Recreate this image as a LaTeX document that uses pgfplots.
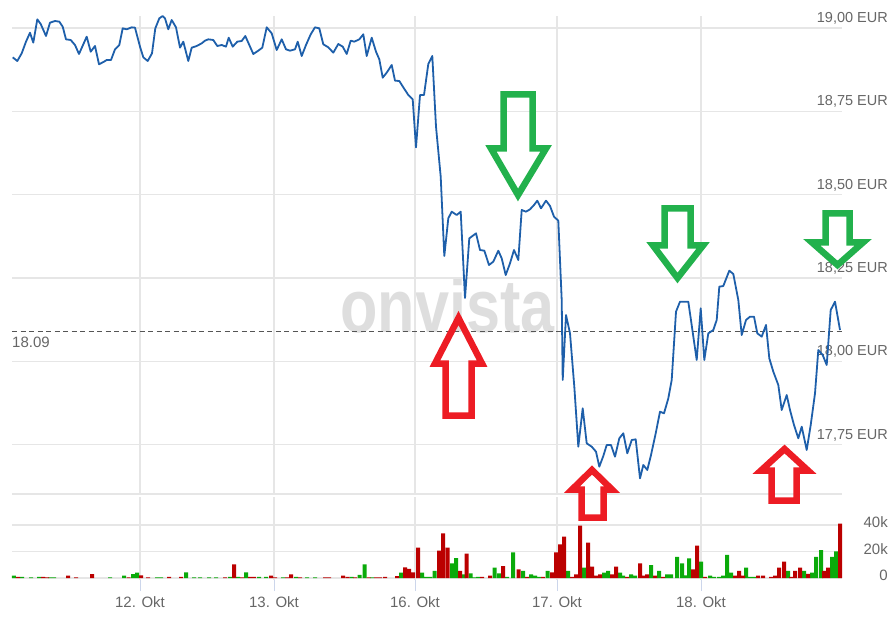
\documentclass[border=0pt]{standalone}
\usepackage{pgfplots}
\pgfplotsset{compat=1.18}
\usepackage{fontspec}
\setmainfont{Liberation Sans}
\definecolor{priceblue}{RGB}{30,95,170}
\definecolor{volgreen}{RGB}{10,170,10}
\definecolor{volred}{RGB}{187,0,0}
\definecolor{arrowgreen}{RGB}{34,177,76}
\definecolor{arrowred}{RGB}{237,28,36}
\definecolor{gridgray}{RGB}{230,230,230}
\definecolor{tickblue}{RGB}{204,214,235}
\definecolor{labelgray}{RGB}{102,102,102}
\definecolor{wmgray}{RGB}{222,222,222}
\begin{document}
\begin{tikzpicture}[x=1pt,y=1pt]
\path[use as bounding box] (0,0) rectangle (890,619);
\node[anchor=base, text=wmgray, font=\fontsize{60}{60}\selectfont\bfseries, xscale=1.02, yscale=1.25, inner sep=0pt] at (447.5,287) {onvista};

\begin{axis}[
  at={(12pt,125pt)}, anchor=south west, scale only axis,
  width=830pt, height=478pt,
  xmin=12, xmax=842, ymin=17.602, ymax=19.036,
  axis line style={draw=none},
  xtick={140,274,415,557,701}, xticklabels={},
  ytick={17.75,18,18.25,18.5,18.75,19},
  yticklabels={{17,75 EUR},{18,00 EUR},{18,25 EUR},{18,50 EUR},{18,75 EUR},{19,00 EUR}},
  yticklabel pos=right,
  extra y ticks={17.602}, extra y tick labels={},
  tick style={draw=none},
  grid=major, major grid style={draw=gridgray, line width=1.5pt},
  yticklabel style={anchor=east, xshift=46pt, yshift=9.5pt, inner sep=0pt, text=labelgray, font=\fontsize{14.5}{17}\selectfont},
  clip=false,
]
\addplot[draw={rgb,255:red,85;green,85;blue,85}, line width=1.2pt, dash pattern=on 5pt off 3.5pt] coordinates {(12,18.09) (842,18.09)};
\addplot[priceblue, line width=1.8pt, line join=round] coordinates {
(12.7,18.912) (17.3,18.901) (21.7,18.924) (26,18.959) (30,18.986) (33.3,18.956)
(37.3,19.026) (40.7,19.012) (46,18.976) (50,19.016) (55,19.021) (59.3,19.019)
(62.7,19.004) (66,18.966) (70.7,18.964) (75,18.949) (79,18.922) (86.7,18.974)
(90.7,18.929) (95,18.946) (99,18.891) (104,18.899) (106.7,18.904) (111,18.904)
(115,18.936) (119.3,18.949) (122.7,18.999) (126.7,18.996) (131.7,19.002) (135,19.001)
(140,18.944) (143.3,18.912) (147.7,18.901) (152,18.924) (155.3,18.999) (159.3,19.029)
(162.7,19.036) (165,19.029) (168.3,18.996) (171.7,19.024) (176,19.002) (180,18.941)
(183.3,18.959) (188.3,18.901) (191.7,18.941) (196.7,18.946) (201.7,18.954) (205,18.962)
(208.3,18.966) (213.3,18.964) (217.3,18.946) (221.7,18.949) (226,18.944) (228.7,18.971)
(232.7,18.944) (237.3,18.959) (241.7,18.961) (245.3,18.976) (249.3,18.949) (253.3,18.922)
(258.3,18.932) (262.3,18.941) (266.7,19.002) (271.7,18.984) (276.7,18.934) (281.7,18.966)
(286,18.936) (290,18.932) (295,18.936) (297.7,18.959) (301.7,18.916) (306,18.949)
(310.7,18.981) (315,19.002) (319.3,18.999) (323.3,18.951) (328.3,18.942) (333.3,18.926)
(338.3,18.952) (342.7,18.944) (346.7,18.922) (350.7,18.962) (354.3,18.959) (359.3,18.966)
(363.3,18.981) (366.7,18.916) (371.7,18.971) (376,18.929) (379.3,18.906) (382.7,18.851)
(386.7,18.866) (391.7,18.889) (395,18.842) (399.3,18.841) (403.3,18.822) (408.3,18.799)
(412.7,18.786) (416,18.642) (420,18.799) (424,18.799) (428.3,18.892) (432.3,18.916)
(436,18.704) (440.7,18.554) (444.3,18.316) (448.3,18.429) (451.7,18.449) (456.7,18.439)
(460.7,18.449) (465,18.190) (469.3,18.369) (476,18.384) (480,18.334) (484.3,18.332)
(489,18.289) (493.3,18.299) (498.3,18.332) (501.7,18.309) (505.7,18.259) (510,18.294)
(514,18.334) (518.3,18.304) (521.7,18.454) (526,18.449) (530,18.456) (534,18.469)
(537.3,18.482) (541,18.459) (546,18.482) (550,18.466) (554,18.434) (558.3,18.422)
(561.7,18.184) (562.7,17.944) (566,18.139) (570,18.084) (574.3,17.924) (578.3,17.744)
(582.7,17.859) (586.7,17.754) (591.7,17.744) (596,17.729) (599.3,17.684) (603.3,17.716)
(606.7,17.749) (611,17.749) (615,17.714) (619.3,17.769) (623.3,17.784) (627.3,17.724)
(631.7,17.764) (635.7,17.766) (640,17.649) (643.3,17.689) (647.3,17.674) (651,17.719)
(655.7,17.784) (660,17.849) (664,17.844) (668.3,17.889) (671.7,17.944) (676,18.149)
(680,18.179) (688.3,18.179) (696.7,18.004) (700.7,18.159) (704.3,18.004) (708.3,18.084)
(713.3,18.094) (716.7,18.124) (719.3,18.224) (723.3,18.226) (729.3,18.272) (733.3,18.262)
(738.3,18.184) (741.7,18.079) (746,18.124) (750,18.134) (754,18.134) (757.3,18.084)
(761.7,18.074) (766,18.109) (769.3,18.009) (773.3,17.969) (778.3,17.929) (781.7,17.854)
(786.7,17.899) (790,17.854) (794,17.809) (798.3,17.769) (801.7,17.804) (806.7,17.734)
(810.7,17.809) (815,17.904) (818.3,18.034) (822.7,18.019) (826.7,17.989) (830.7,18.154)
(835,18.179) (840,18.094)
};
\node[anchor=west, inner sep=0pt, yshift=-11pt, text=labelgray, font=\fontsize{15}{17}\selectfont] at (axis cs:12,18.09) {18.09};
\end{axis}

\begin{axis}[
  at={(12pt,39pt)}, anchor=south west, scale only axis,
  width=830pt, height=83pt,
  xmin=12, xmax=842, ymin=-1.51, ymax=61.1,
  axis line style={draw=none},
  xtick={140,274,415,557,701},
  xticklabels={12. Okt,13. Okt,16. Okt,17. Okt,18. Okt},
  xtick pos=lower,
  ytick={20,40}, yticklabels={20k,40k}, yticklabel pos=right,
  extra y ticks={0}, extra y tick labels={0},
  extra y tick style={grid style={draw=tickblue, line width=1.5pt}},
  tick align=outside, major tick length=11pt,
  xtick style={draw=tickblue, line width=1pt},
  ytick style={draw=none},
  grid=major, major grid style={draw=gridgray, line width=1.5pt},
  xticklabel style={anchor=base, yshift=-16pt, inner sep=0pt, text=labelgray, font=\fontsize{15}{17}\selectfont},
  yticklabel style={anchor=east, xshift=35pt, yshift=2.5pt, inner sep=0pt, text=labelgray, font=\fontsize{15}{17}\selectfont},
]
\addplot[ybar, bar width=4, bar shift=0pt, fill=volgreen, draw=none] coordinates {
(14,1.8) (22,0.8) (31,0.5) (39,0.8) (50,0.5) (54,0.5) (110,0.5) (124,1.8) (133,3) (137,4)
(157,0.5) (161,0.5) (186,4.3) (194,0.5) (200,0.5) (209,0.5) (216,0.5) (230,0.8) (238,0.8)
(246,4.3) (259,0.8) (266,0.8) (283,0.5) (296,0.8) (307,0.5) (315,0.5) (351.5,0.8) (359.5,2.3)
(364.5,10.3) (372,0.5) (401,4) (422,4) (426,0.8) (430,0.8) (434.5,5.3) (452,11) (456,15)
(463.5,2.8) (470.5,3.5) (474,0.5) (478,0.8) (494.5,7.8) (499,3.5) (507,0.8) (513,19.4)
(523,5.3) (531,2.8) (535,1.8) (539,0.8) (547.5,5.3) (568,5.3) (584,7.8) (604,4) (608,5.3)
(620,4) (623,1.8) (631,2.8) (635,1.8) (651,9.8) (659,5.3) (667,2.8) (671,2.8) (677,16)
(682,11) (685,2) (689,14.8) (701,12.3) (710,1.8) (714,0.8) (719,0.8) (723,1.8) (727,17.4)
(731,4) (746,7.8) (750,0.8) (754,0.8) (788,5.3) (804,5.3) (812,4) (816,16) (821,21)
(832,16) (836,20)
};
\addplot[ybar, bar width=4, bar shift=0pt, fill=volred, draw=none] coordinates {
(18,0.8) (43,0.8) (47,0.5) (68,1.8) (76,0.5) (92,3) (128.5,0.5) (141,2) (148,0.5) (169,0.8)
(181,0.8) (225,0.5) (234,10.3) (242,0.5) (250,0.8) (254,0.8) (271,1.8) (275,0.5) (287,0.5)
(291,2.8) (300,0.5) (325,0.5) (329,0.5) (343,1.8) (347.5,0.8) (355,0.5) (368.5,0.5) (376,0.5)
(380,0.5) (385,0.8) (397,1.5) (405,8) (409,6.8) (413,4.3) (418,23) (439,20.6) (443,33.7)
(447.5,23) (460,5.3) (466.5,18.4) (482,0.8) (490,1.8) (503,9) (518.5,6.5) (527,0.8) (543,0.8)
(552,4.3) (556,19.4) (560,25.4) (564,31.2) (572,0.8) (576,2.8) (580,39.5) (588,26.7) (592,8.6)
(596,1.8) (600,2.8) (612,2.8) (616,8.6) (627,0.8) (640,11) (644,1.8) (647,2.8) (655,1.8)
(663,0.8) (693,6.5) (697,24.4) (705,0.8) (735,1.8) (739,5.3) (743,1.8) (758,1.8) (763,1.8)
(771,0.8) (775,1.8) (779,7.8) (784,12.3) (791,0.8) (795,5.3) (800,7.8) (808,3.2) (824,5.3)
(828,7.8) (840,41)
};
\end{axis}

\begin{scope}[line width=6.5pt, line join=miter, miter limit=3]
\draw[arrowgreen] (503.5,524.5) -- (532.5,524.5) -- (532.5,470.5) -- (546,470.5) -- (518,424) -- (491,470.5) -- (503.5,470.5) -- cycle;
\draw[arrowgreen] (664.5,410.5) -- (690.5,410.5) -- (690.5,373.5) -- (703,373.5) -- (677.5,341) -- (653,373.5) -- (664.5,373.5) -- cycle;
\draw[arrowgreen] (825.5,405.5) -- (849.5,405.5) -- (849.5,376.5) -- (863,376.5) -- (837.5,354) -- (812,376.5) -- (825.5,376.5) -- cycle;
\draw[arrowred] (458.5,301) -- (482,255.5) -- (471.5,255.5) -- (471.5,203.5) -- (445.5,203.5) -- (445.5,255.5) -- (435,255.5) -- cycle;
\draw[arrowred] (592,149) -- (612,129.5) -- (603.5,129.5) -- (603.5,101.5) -- (581.5,101.5) -- (581.5,129.5) -- (572,129.5) -- cycle;
\draw[arrowred] (784.5,170) -- (808,148.5) -- (796.5,148.5) -- (796.5,118.5) -- (771.5,118.5) -- (771.5,148.5) -- (761,148.5) -- cycle;
\end{scope}
\end{tikzpicture}
\end{document}
